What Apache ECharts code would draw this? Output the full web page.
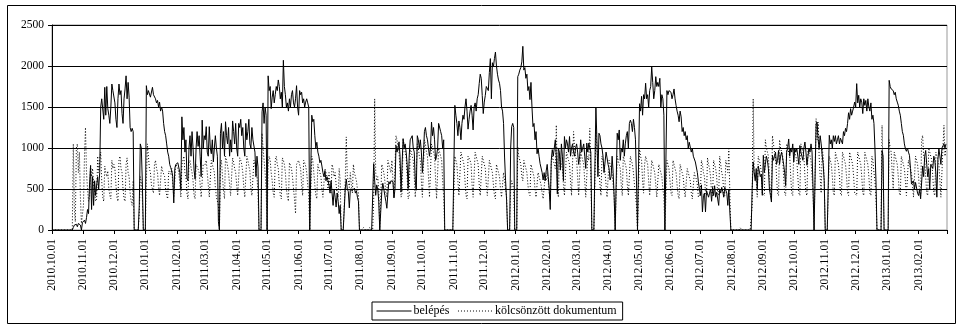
<!DOCTYPE html>
<html>
<head>
<meta charset="utf-8">
<title>belépés / kölcsönzött dokumentum</title>
<script src="https://cdn.jsdelivr.net/npm/echarts@6/dist/echarts.min.js"></script>
<style>html,body{margin:0;padding:0;background:#fff;}</style>
</head>
<body>
<div id="main" style="width:961px;height:326px;"></div>
<script type="text/javascript">
// napi adatok 2010.10.01-tol, soronkent egy honap
var belepes = [
  0,0,0,0,0,0,0,0,0,0,0,0,0,0,0,0,0,0,0,0,0,30,60,80,70,40,80,100,60,0,90,
  100,120,80,150,250,200,560,780,250,650,300,600,420,550,650,500,700,1500,1600,1620,1350,1740,1400,1750,1480,1400,1300,1500,1780,1700,
  1700,1550,1350,1250,1600,1780,1650,1700,1420,1300,1600,1720,1880,1600,1800,1620,1250,1200,1240,1200,0,0,0,0,0,300,1050,1000,600,0,0,
  0,1760,1650,1700,1680,1620,1600,1740,1650,1640,1600,1550,1580,1500,1560,1450,1500,1450,1300,1200,1150,1050,950,900,800,760,720,650,330,750,800,
  780,820,800,700,500,1380,1100,1250,950,1100,630,600,1000,1150,900,1200,1000,730,620,1000,1200,1020,1150,900,650,1340,1000,1150,
  1100,1260,950,900,1260,1000,930,1100,830,1000,1150,1000,900,100,0,1180,1300,1000,1200,900,1320,1150,1050,1250,900,1100,950,1330,1200,1050,1300,
  1000,900,1300,1250,1350,1150,1250,1000,900,1300,1100,1200,1350,1050,1000,1250,1100,1100,950,650,900,770,0,0,0,1440,1550,1300,1500,1400,
  0,1880,1700,1750,1480,1620,1700,1550,1650,1750,1700,1830,1750,1600,1680,1500,2070,1750,1650,1500,1550,1450,1600,1500,1650,1700,1550,1500,1600,1760,1500,
  1400,1700,1650,1680,1550,1600,1500,1560,1600,1550,1500,0,0,1400,1320,1350,1150,1000,1070,950,900,820,850,780,700,650,720,600,650,600,
  550,450,600,450,300,500,400,280,450,350,200,300,0,0,0,0,500,620,500,470,270,500,520,480,500,510,450,480,400,350,0,
  0,0,0,0,0,0,0,0,0,0,0,0,0,810,600,423,550,500,350,0,0,465,570,500,420,350,265,450,590,560,600,
  600,590,390,500,1030,950,1000,1075,900,465,800,1114,1000,1050,950,800,505,900,1100,1080,1150,1000,950,600,485,1150,1100,1000,1100,950,
  700,900,1200,1250,1150,1100,1000,900,1000,1317,1150,1250,1100,850,900,1000,1300,1280,1200,1150,1000,1100,0,0,0,0,0,0,0,0,0,
  0,1520,1400,1300,1150,1330,1250,1100,1300,1400,1350,1500,1600,1450,1230,1350,1450,1520,1400,1220,1500,1550,1450,1600,1650,1785,1900,1850,1640,1420,
  1560,1640,1750,1760,1700,1920,2090,1600,2040,1990,2090,2170,2000,1900,1830,1790,1700,1500,1450,1300,890,600,360,0,0,0,1000,1260,1300,1250,0,
  0,0,1870,1900,1950,1980,2050,2240,1950,1980,1850,1900,1700,1750,1590,1800,1500,1260,1300,1100,1200,930,1000,900,810,820,700,610,700,600,720,
  800,650,500,250,850,980,900,1000,1100,900,440,1000,950,730,1050,900,600,1140,1000,1100,1050,950,1140,900,1000,1050,950,900,1000,
  1050,950,800,900,1100,950,1000,1050,900,750,1060,950,1060,1000,950,0,0,0,0,1500,1100,650,1180,1150,1050,1000,900,700,690,950,880,
  800,750,610,650,900,700,400,0,0,1180,1100,1220,850,1000,950,1100,900,1050,1150,1200,1000,1300,1340,1300,1200,1350,1250,1100,600,0,
  0,1540,1450,1630,1400,1650,1600,1790,1600,1650,1500,1700,1750,1990,1800,1600,1700,1870,1750,1800,1750,1850,1500,1650,1600,1400,0,0,1700,1650,1700,
  1700,1680,1600,1650,1720,1600,1520,1450,1400,1320,1450,1380,1200,1250,1150,1200,1100,1150,1000,1070,1050,950,1000,900,910,830,850,700,590,500,
  420,550,220,420,450,220,480,500,400,450,500,350,520,420,540,400,460,480,300,500,450,520,470,400,520,540,450,300,500,220,0,
  0,0,0,0,0,0,0,0,0,0,0,0,0,0,0,0,0,0,0,0,500,830,700,600,750,505,780,720,650,680,423,
  911,700,800,900,850,750,500,423,341,911,850,900,950,800,850,970,800,900,950,880,800,700,540,950,1000,1110,900,1000,950,1050,
  829,1000,950,992,900,800,1030,950,900,850,1000,1073,950,790,900,1000,950,1050,950,500,0,0,1290,1317,1100,1000,1150,1050,911,800,600,
  0,0,0,0,1155,1050,1100,1000,1150,1080,1150,1050,1100,1150,1050,1120,1100,1050,1200,1150,1240,1200,1300,1430,1350,1480,1400,1450,1500,1560,
  1500,1785,1550,1643,1500,1600,1560,1420,1600,1520,1580,1450,1600,1500,1450,1550,1350,1400,1300,992,600,0,0,0,0,0,970,900,0,0,0,
  0,0,1825,1750,1720,1740,1700,1650,1680,1600,1560,1521,1450,1400,1300,1200,1155,1050,992,960,1000,950,911,750,560,540,600,500,580,560,450,
  420,500,380,380,780,650,900,970,800,650,750,500,800,780,750,900,850,700,400,850,992,900,800,1000,992,1050,1000,1050
];

var kolcsonzott = [
  0,0,0,0,0,0,0,0,0,0,0,0,0,0,0,0,0,0,0,0,0,1050,250,100,1000,1050,700,950,400,80,100,
  300,900,1250,700,500,350,400,800,650,750,550,480,350,380,900,700,850,950,600,400,350,780,700,650,720,500,420,380,850,750,
  800,750,550,400,350,850,900,750,700,500,380,350,800,880,700,650,450,350,300,600,0,0,0,0,0,200,650,600,400,0,0,
  0,600,1050,900,750,700,550,500,450,800,850,750,700,520,420,400,780,720,700,650,500,420,380,720,700,680,750,560,400,420,800,
  800,750,700,550,400,800,850,900,700,650,450,380,820,850,760,700,600,420,380,800,820,740,700,560,400,380,800,820,
  800,850,700,550,400,380,850,800,750,700,520,400,380,300,0,800,850,650,480,380,900,850,780,700,550,420,400,880,820,750,700,
  550,420,400,880,850,800,700,520,400,380,900,850,780,720,500,420,400,850,800,700,650,450,0,0,0,1180,1000,850,700,500,
  0,800,900,850,700,600,450,400,850,900,800,750,550,420,380,880,850,800,700,500,400,350,820,800,750,650,500,380,200,800,780,
  850,800,750,550,420,850,820,780,700,550,420,0,0,900,850,700,550,420,380,800,750,700,650,500,400,380,750,700,650,500,
  700,500,450,800,750,650,700,550,450,400,750,600,0,0,0,0,600,1135,650,600,520,700,550,450,800,700,650,600,500,450,0,
  0,0,0,30,30,0,0,0,0,30,0,0,0,350,1600,700,600,650,500,0,0,800,750,700,600,450,400,850,800,750,700,
  850,600,400,420,1150,1100,1000,950,700,400,450,1100,1050,950,900,650,380,420,1000,950,900,850,650,400,380,1050,1000,900,850,600,
  400,420,1100,1050,950,900,650,400,420,1050,1000,950,900,620,380,400,1000,950,900,850,600,400,0,0,0,0,0,0,0,0,0,
  0,900,850,800,600,420,400,950,900,850,800,600,420,380,900,880,850,800,550,400,380,950,900,850,800,550,420,400,900,850,
  800,750,550,420,400,850,800,750,700,550,420,380,800,750,700,650,500,400,380,700,600,500,400,0,0,0,500,600,550,500,0,
  0,0,1010,900,850,800,650,600,850,800,750,700,550,450,420,800,750,700,650,500,400,380,700,650,600,550,450,380,360,650,600,
  700,600,450,350,800,900,850,800,750,1280,600,400,900,850,800,750,550,420,400,950,900,850,800,600,420,400,1200,1000,900,
  850,650,420,400,950,900,850,800,600,400,380,900,850,1240,700,0,0,0,0,1200,1000,800,750,550,420,900,850,800,700,550,400,
  400,850,800,750,700,550,400,0,0,900,850,800,750,550,420,900,850,800,750,550,420,400,900,850,800,700,550,420,300,0,
  0,1000,900,850,600,450,800,900,850,800,600,420,400,850,800,750,700,550,400,380,800,750,700,650,500,400,0,0,850,800,750,
  600,450,420,850,800,750,700,550,420,380,800,750,700,650,500,400,380,750,700,650,600,450,380,360,700,650,620,550,400,380,
  450,850,800,700,650,450,420,880,800,750,650,450,420,850,800,750,650,450,420,900,800,700,650,450,420,850,800,700,992,450,0,
  0,0,0,0,0,0,0,0,30,30,0,0,0,0,0,0,0,0,0,0,300,1600,700,650,600,400,900,850,800,700,450,
  450,420,1100,1000,950,900,650,450,400,1150,1050,950,900,650,450,420,1100,1000,950,900,650,450,420,1050,1000,950,900,650,450,420,
  1000,950,900,850,650,450,420,1050,1000,950,900,650,450,420,1000,950,900,850,650,450,0,0,1358,1100,1317,900,650,450,1000,900,600,
  0,0,0,0,900,850,800,650,450,420,950,900,850,800,650,450,420,950,900,850,800,650,450,420,950,900,850,800,650,450,
  450,420,950,900,850,800,650,450,420,950,900,850,800,650,450,420,900,850,700,600,400,0,0,0,0,0,1277,700,0,0,0,
  0,0,1100,1000,950,700,500,950,900,850,800,650,450,420,900,850,800,750,600,420,400,850,800,750,700,550,400,380,900,850,800,
  650,450,420,1100,1155,900,850,650,450,420,1000,950,900,850,650,450,420,950,900,850,800,600,400,380,1000,1277,900,1000
];

var seriesNames = ['belépés', 'kölcsönzött dokumentum'];
var yTicks = [0, 500, 1000, 1500, 2000, 2500];

// napok cimkei (egy plusz nap a tengely vegere)
function pad(n) { return (n < 10 ? '0' : '') + n; }
var days = [];
for (var i = 0; i <= belepes.length; i++) {
    var d = new Date(Date.UTC(2010, 9, 1 + i));
    days.push(d.getUTCFullYear() + '.' + pad(d.getUTCMonth() + 1) + '.' + pad(d.getUTCDate()));
}
var lastDay = days[days.length - 1];

var font = 'Liberation Serif';
var myChart = echarts.init(document.getElementById('main'));
var option = {
    animation: false,
    backgroundColor: '#fff',
    textStyle: { fontFamily: font },
    grid: { left: 52, right: 14, top: 25, bottom: 96, show: true, borderColor: '#999', borderWidth: 1, outerBoundsMode: 'none' },
    legend: {
        data: seriesNames,
        left: 372, top: 302,
        itemWidth: 35, itemHeight: 9, itemGap: 8,
        padding: [3, 6, 3, 4],
        borderColor: '#000', borderWidth: 1,
        itemStyle: { opacity: 0 },
        lineStyle: { width: 1 },
        textStyle: { fontFamily: font, fontSize: 12, color: '#000', padding: [0, 0, 0, -3] }
    },
    xAxis: {
        type: 'category',
        data: days,
        boundaryGap: false,
        axisLine: { lineStyle: { color: '#000', width: 1 } },
        axisTick: { interval: function (idx, val) { return val.slice(-3) === '.01'; }, length: 4, lineStyle: { color: '#000' } },
        axisLabel: {
            interval: function (idx, val) { return val.slice(-3) === '.01' && val !== lastDay; },
            rotate: 90, margin: 9, fontFamily: font, fontSize: 11.5, color: '#000'
        },
        splitLine: { show: false }
    },
    yAxis: {
        type: 'value',
        min: yTicks[0], max: yTicks[yTicks.length - 1], interval: 500,
        axisLine: { show: true, lineStyle: { color: '#000' } },
        axisTick: { show: true, length: 4, lineStyle: { color: '#000' } },
        axisLabel: { margin: 8, fontFamily: font, fontSize: 11.5, color: '#000', formatter: function (v) { return String(v); } },
        splitLine: { lineStyle: { color: '#000', width: 1 } }
    },
    graphic: [{
        type: 'rect', silent: true,
        shape: { x: 7.5, y: 5.5, width: 948, height: 318 },
        style: { fill: null, stroke: '#000', lineWidth: 1 }
    }],
    series: [
        {
            name: seriesNames[0], type: 'line', data: belepes,
            symbol: 'none', z: 3,
            lineStyle: { color: '#000', width: 1 },
            itemStyle: { color: '#000' }
        },
        {
            name: seriesNames[1], type: 'line', data: kolcsonzott,
            symbol: 'none', z: 2,
            lineStyle: { color: '#000', width: 1, type: [1, 2] },
            itemStyle: { color: '#000' }
        }
    ]
};
myChart.setOption(option);
</script>
</body>
</html>
